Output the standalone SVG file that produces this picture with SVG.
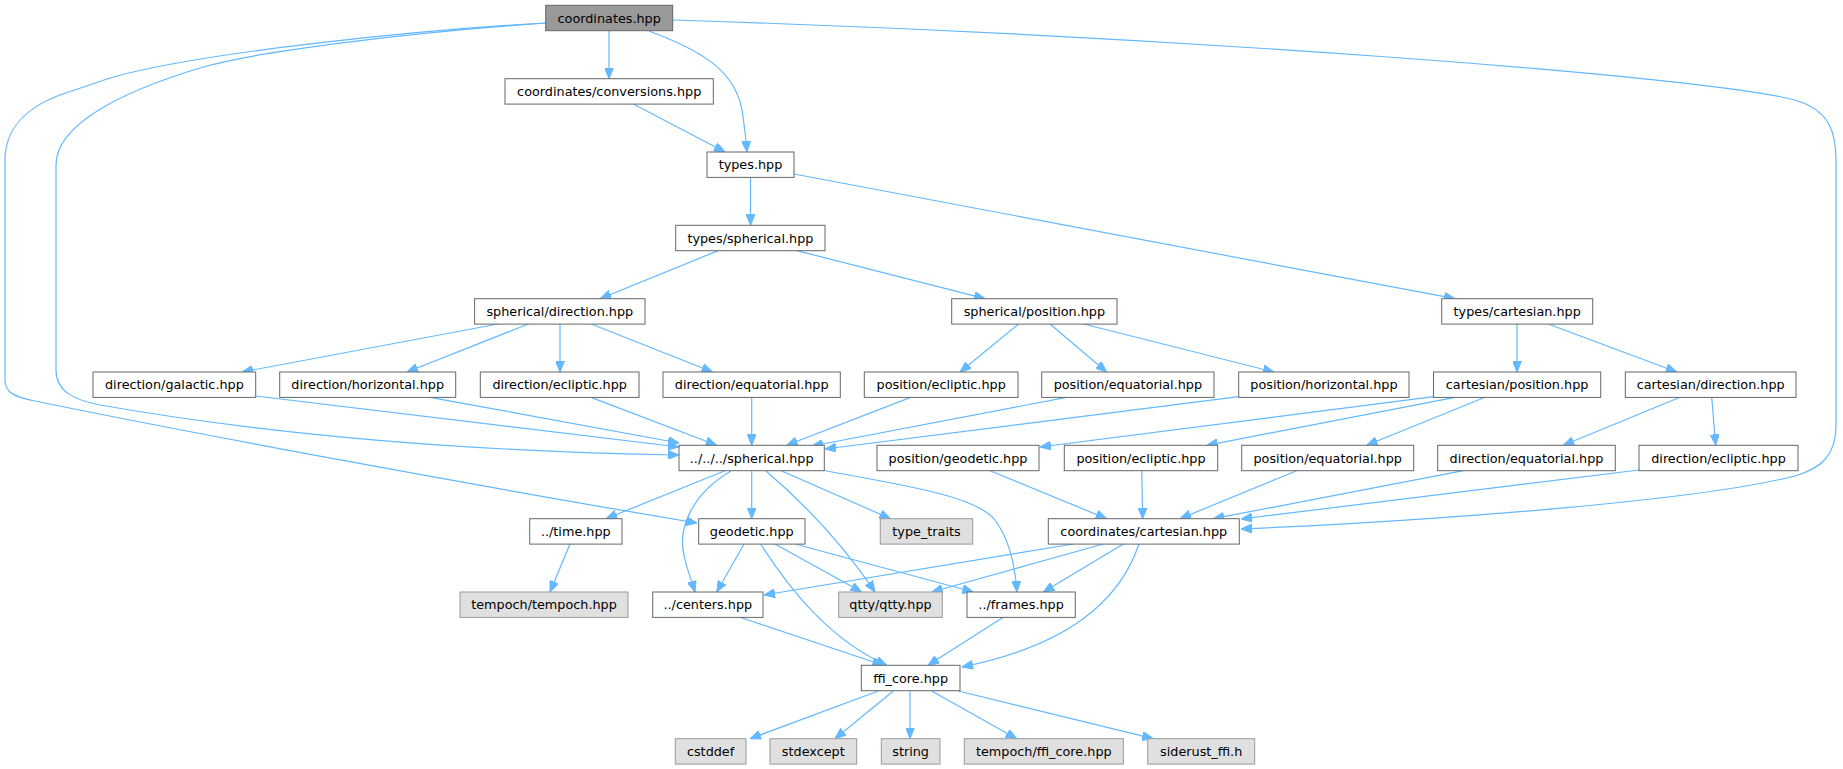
<svg xmlns="http://www.w3.org/2000/svg" width="1843" height="769" viewBox="0 0 1843 769">
<defs>
<style>
.n rect{fill:#ffffff;stroke:#666666;stroke-width:1}
.r rect{fill:#999999;stroke:#666666;stroke-width:1}
.x rect{fill:#e0e0e0;stroke:#999999;stroke-width:1}
text{font-family:"DejaVu Sans","Liberation Sans",sans-serif;font-size:12.8px;fill:#000000;text-anchor:middle}
#edges path{fill:none;stroke:#63b8ff;stroke-width:1.2;marker-end:url(#ah)}
</style>
<marker id="ah" viewBox="0 0 11 9" refX="11" refY="4.5" markerWidth="11" markerHeight="9" orient="auto" markerUnits="userSpaceOnUse">
<path d="M0,0 L11,4.5 L0,9 z" fill="#63b8ff" stroke="#63b8ff" stroke-width="1"/>
</marker>
</defs>
<rect width="1843" height="769" fill="#ffffff"/>
<g id="edges">
<path d="M609,31 L609,78.7"/>
<path d="M649,31 C700,50 735,70 742,110 C745,130 746,140 747,152"/>
<path d="M633.3,104 L725,152"/>
<path d="M546,23 C420,32 260,50 200,68 C120,92 56,125 56,165 L56,370 C56,392 75,400 100,405 C300,440 500,452 679,455"/>
<path d="M546,23 C420,30 200,52 110,78 L60,95 C25,108 5,130 5,160 L5,380 C5,393 15,397 35,401 C200,435 500,490 697,523"/>
<path d="M673,20 C1150,35 1700,75 1795,100 C1828,110 1836,130 1836,160 L1836,425 C1836,455 1822,468 1795,476 C1700,500 1450,520 1241,529"/>
<path d="M750.5,177.3 L750.5,225.3"/>
<path d="M794,174 L1455,298.7"/>
<path d="M718.3,250.6 L600,298.7"/>
<path d="M796.7,250.6 L985,298.7"/>
<path d="M498,324 L242,372"/>
<path d="M528.3,324 L407,372"/>
<path d="M560,324 L560,372"/>
<path d="M591.2,324 L712.6,372"/>
<path d="M1018.7,324 L960,372"/>
<path d="M1050,324 L1106.6,372"/>
<path d="M1083.6,324 L1274,372"/>
<path d="M1517,324 L1517,372"/>
<path d="M1548.3,324 L1676.7,372"/>
<path d="M255.7,396 L679,447"/>
<path d="M430,397.3 L679,443"/>
<path d="M591.7,397.6 L716.7,445.3"/>
<path d="M751.7,397.6 L751.7,445.3"/>
<path d="M910,397.6 L786.7,445.3"/>
<path d="M1066.7,397.3 L812,446"/>
<path d="M1238.7,396.7 L825,449"/>
<path d="M1433.7,396.7 L1040,447"/>
<path d="M1455,397.3 L1206.7,445.3"/>
<path d="M1485,397.3 L1366.7,445.3"/>
<path d="M1680,397.3 L1563.3,445.3"/>
<path d="M1711.7,397.3 L1715.7,445.3"/>
<path d="M725,470.7 L606,518.7"/>
<path d="M731,471 C690,495 678,530 684,555 C687,570 692,582 695,592"/>
<path d="M751.7,470.7 L751.7,518.7"/>
<path d="M766,471 C800,500 840,540 875,592"/>
<path d="M781.3,470.7 L890.4,518.7"/>
<path d="M824.5,470.5 C900,485 975,495 995,520 C1010,540 1015,565 1017,592"/>
<path d="M990,470.7 L1106.7,518.7"/>
<path d="M1141.7,470.7 L1142.7,518.7"/>
<path d="M1296.7,470.7 L1180,518.7"/>
<path d="M1463.3,470.7 L1213.3,518.7"/>
<path d="M1639,470 L1241,519"/>
<path d="M570,544 L550,592"/>
<path d="M744,544 L716.7,592"/>
<path d="M760.7,544 C790,590 830,640 886.7,665.3"/>
<path d="M775,544 L861.7,592"/>
<path d="M795,544 L973.3,592"/>
<path d="M1073.3,544 L764,595"/>
<path d="M1103.3,544 L931.7,592"/>
<path d="M1123.3,544 L1043.3,592"/>
<path d="M1139,544 C1120,600 1070,645 962,667"/>
<path d="M740,617.3 L883.3,665.3"/>
<path d="M1003.3,617.3 L928,665.3"/>
<path d="M878.3,691 L750,738.7"/>
<path d="M893.3,691 L835,738.7"/>
<path d="M910,691 L910,738.7"/>
<path d="M931.7,691 L1016.7,738.7"/>
<path d="M958.3,691 L1153.3,738.7"/>
</g>
<g id="n_coordinates" class="r"><rect x="545.7" y="5.3" width="127" height="25.4"/><text x="609.2" y="22.5">coordinates.hpp</text></g>
<g id="n_conversions" class="n"><rect x="505" y="78.7" width="208.3" height="25.4"/><text x="609.2" y="95.9">coordinates/conversions.hpp</text></g>
<g id="n_types" class="n"><rect x="707" y="152" width="87" height="25.4"/><text x="750.5" y="169.2">types.hpp</text></g>
<g id="n_types_spherical" class="n"><rect x="675.7" y="225.3" width="149.3" height="25.4"/><text x="750.4" y="242.5">types/spherical.hpp</text></g>
<g id="n_spherical_direction" class="n"><rect x="474.6" y="298.7" width="170.4" height="25.4"/><text x="559.8" y="315.9">spherical/direction.hpp</text></g>
<g id="n_spherical_position" class="n"><rect x="951.7" y="298.7" width="165.3" height="25.4"/><text x="1034.4" y="315.9">spherical/position.hpp</text></g>
<g id="n_types_cartesian" class="n"><rect x="1441.7" y="298.7" width="151" height="25.4"/><text x="1517.2" y="315.9">types/cartesian.hpp</text></g>
<g id="n_dir_galactic" class="n"><rect x="93" y="372" width="162.7" height="25.4"/><text x="174.4" y="389.2">direction/galactic.hpp</text></g>
<g id="n_dir_horizontal" class="n"><rect x="279.7" y="372" width="176" height="25.4"/><text x="367.7" y="389.2">direction/horizontal.hpp</text></g>
<g id="n_dir_ecliptic" class="n"><rect x="480.3" y="372" width="158.7" height="25.4"/><text x="559.7" y="389.2">direction/ecliptic.hpp</text></g>
<g id="n_dir_equatorial" class="n"><rect x="663" y="372" width="177.3" height="25.4"/><text x="751.7" y="389.2">direction/equatorial.hpp</text></g>
<g id="n_pos_ecliptic" class="n"><rect x="864.3" y="372" width="153.7" height="25.4"/><text x="941.2" y="389.2">position/ecliptic.hpp</text></g>
<g id="n_pos_equatorial" class="n"><rect x="1041.7" y="372" width="172.3" height="25.4"/><text x="1127.9" y="389.2">position/equatorial.hpp</text></g>
<g id="n_pos_horizontal" class="n"><rect x="1238.7" y="372" width="170.3" height="25.4"/><text x="1323.9" y="389.2">position/horizontal.hpp</text></g>
<g id="n_cart_position" class="n"><rect x="1433.5" y="372" width="167.2" height="25.4"/><text x="1517.1" y="389.2">cartesian/position.hpp</text></g>
<g id="n_cart_direction" class="n"><rect x="1625.3" y="372" width="170.7" height="25.4"/><text x="1710.7" y="389.2">cartesian/direction.hpp</text></g>
<g id="n_spherical" class="n"><rect x="679" y="445.3" width="145.3" height="25.4"/><text x="751.7" y="462.5">../../../spherical.hpp</text></g>
<g id="n_pos_geodetic" class="n"><rect x="877" y="445.3" width="162" height="25.4"/><text x="958" y="462.5">position/geodetic.hpp</text></g>
<g id="n_pos_ecliptic2" class="n"><rect x="1064.3" y="445.3" width="153.4" height="25.4"/><text x="1141" y="462.5">position/ecliptic.hpp</text></g>
<g id="n_pos_equatorial2" class="n"><rect x="1241.7" y="445.3" width="172" height="25.4"/><text x="1327.7" y="462.5">position/equatorial.hpp</text></g>
<g id="n_dir_equatorial2" class="n"><rect x="1437.7" y="445.3" width="177.6" height="25.4"/><text x="1526.5" y="462.5">direction/equatorial.hpp</text></g>
<g id="n_dir_ecliptic2" class="n"><rect x="1639" y="445.3" width="159" height="25.4"/><text x="1718.5" y="462.5">direction/ecliptic.hpp</text></g>
<g id="n_time" class="n"><rect x="529.7" y="518.7" width="92.3" height="25.4"/><text x="575.8" y="535.9">../time.hpp</text></g>
<g id="n_geodetic" class="n"><rect x="698.7" y="518.7" width="106.3" height="25.4"/><text x="751.8" y="535.9">geodetic.hpp</text></g>
<g id="n_type_traits" class="x"><rect x="880.3" y="518.7" width="92.4" height="25.4"/><text x="926.5" y="535.9">type_traits</text></g>
<g id="n_coord_cartesian" class="n"><rect x="1048.3" y="518.7" width="191" height="25.4"/><text x="1143.8" y="535.9">coordinates/cartesian.hpp</text></g>
<g id="n_tempoch" class="x"><rect x="460" y="592" width="168" height="25.4"/><text x="544" y="609.2">tempoch/tempoch.hpp</text></g>
<g id="n_centers" class="n"><rect x="652.7" y="592" width="110.3" height="25.4"/><text x="707.8" y="609.2">../centers.hpp</text></g>
<g id="n_qtty" class="x"><rect x="838.7" y="592" width="103.6" height="25.4"/><text x="890.5" y="609.2">qtty/qtty.hpp</text></g>
<g id="n_frames" class="n"><rect x="967" y="592" width="108.3" height="25.4"/><text x="1021.1" y="609.2">../frames.hpp</text></g>
<g id="n_ffi_core" class="n"><rect x="861.3" y="665.3" width="98.7" height="25.4"/><text x="910.6" y="682.5">ffi_core.hpp</text></g>
<g id="n_cstddef" class="x"><rect x="675.3" y="738.7" width="70.7" height="25.4"/><text x="710.6" y="755.9">cstddef</text></g>
<g id="n_stdexcept" class="x"><rect x="770" y="738.7" width="86.7" height="25.4"/><text x="813.3" y="755.9">stdexcept</text></g>
<g id="n_string" class="x"><rect x="881.3" y="738.7" width="58.7" height="25.4"/><text x="910.6" y="755.9">string</text></g>
<g id="n_tempoch_ffi" class="x"><rect x="964.3" y="738.7" width="159" height="25.4"/><text x="1043.8" y="755.9">tempoch/ffi_core.hpp</text></g>
<g id="n_siderust" class="x"><rect x="1147.7" y="738.7" width="107" height="25.4"/><text x="1201.2" y="755.9">siderust_ffi.h</text></g>
</svg>
